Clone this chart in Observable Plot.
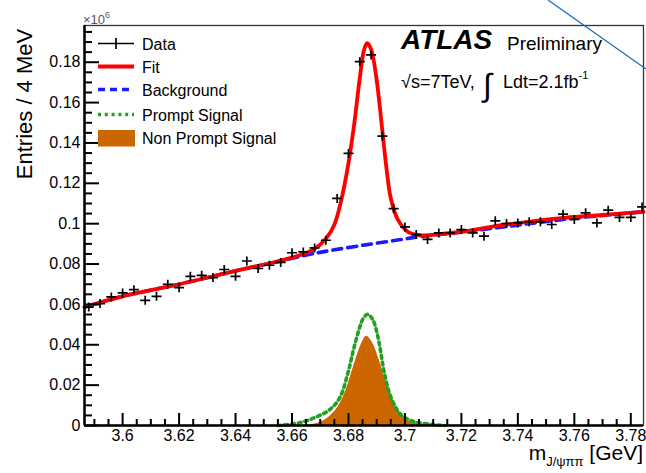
<!DOCTYPE html>
<html><head><meta charset="utf-8">
<script src="https://cdn.jsdelivr.net/npm/d3@7"></script>
<script src="https://cdn.jsdelivr.net/npm/@observablehq/plot@0.6"></script>
<style>
html,body{margin:0;padding:0;background:#fff;}
#chart{width:646px;height:473px;position:relative;}
svg text{font-family:"Liberation Sans",Arial,Helvetica,sans-serif;}
</style></head><body><div id="chart"></div>
<script>
// ---- data: histogram (bin centres in GeV, entries in units of 10^6) ----
const massGeV = [3.588,3.592,3.596,3.600,3.604,3.608,3.612,3.616,3.620,3.624,
  3.628,3.632,3.636,3.640,3.644,3.648,3.652,3.656,3.660,3.664,
  3.668,3.672,3.676,3.680,3.684,3.688,3.692,3.696,3.700,3.704,
  3.708,3.712,3.716,3.720,3.724,3.728,3.732,3.736,3.740,3.744,
  3.748,3.752,3.756,3.760,3.764,3.768,3.772,3.776,3.780,3.784];
const entries = [0.0587,0.0604,0.0637,0.0657,0.0673,0.0620,0.0640,0.0700,0.0683,0.0739,
  0.0744,0.0733,0.0773,0.0739,0.0815,0.0778,0.0794,0.0808,0.0856,0.0860,
  0.0880,0.0918,0.1125,0.1348,0.1803,0.1836,0.1434,0.1075,0.0984,0.0946,
  0.0922,0.0954,0.0954,0.0971,0.0954,0.0938,0.1014,0.1001,0.1004,0.1009,
  0.1009,0.0996,0.1047,0.1021,0.1054,0.1004,0.1067,0.1031,0.1031,0.1083];

// ---- fit curves ----
const fitMass  = [3.5865,3.600,3.620,3.640,3.655,3.663,3.668,3.672,3.675,3.6775,3.680,3.682,3.684,3.6855,3.6866,3.688,3.690,3.692,3.6935,3.695,3.6975,3.701,3.705,3.710,3.720,3.733,3.745,3.757,3.770,3.7845];
const fitValue = [0.0587,0.0640,0.0700,0.0766,0.0814,0.0845,0.0875,0.0925,0.0995,0.1120,0.1300,0.1490,0.1720,0.1860,0.1894,0.1865,0.1710,0.1460,0.1270,0.1125,0.1020,0.0960,0.0943,0.0945,0.0960,0.0990,0.1012,0.1030,0.1043,0.1059];

const bkgMass  = [3.5865,3.600,3.620,3.640,3.655,3.6655,3.674,3.686,3.698,3.706,3.720,3.740,3.760,3.7845];
const bkgValue = [0.0587,0.0640,0.0700,0.0766,0.0812,0.0846,0.0868,0.0895,0.0920,0.0937,0.0958,0.0993,0.1027,0.1059];

const promptMass  = [3.655,3.663,3.669,3.6735,3.677,3.6798,3.6816,3.6834,3.6852,3.6868,3.6886,3.690,3.6913,3.6925,3.6942,3.696,3.6985,3.703,3.710,3.714];
const promptValue = [0,0.0015,0.0045,0.0080,0.0140,0.0260,0.0365,0.0460,0.0530,0.0551,0.0525,0.0465,0.0375,0.0275,0.0175,0.0110,0.0055,0.0020,0.0005,0];

const nonPromptMass  = [3.662,3.668,3.672,3.676,3.679,3.682,3.6845,3.6864,3.6885,3.691,3.694,3.6975,3.701,3.706,3.712];
const nonPromptValue = [0,0.0008,0.0030,0.0085,0.0170,0.0300,0.0400,0.0442,0.0410,0.0320,0.0190,0.0075,0.0025,0.0006,0];

// ---- axes ----
const xTickValues = [3.60,3.62,3.64,3.66,3.68,3.70,3.72,3.74,3.76,3.78];
const xTickLabels = ["3.6","3.62","3.64","3.66","3.68","3.7","3.72","3.74","3.76","3.78"];
const yTickValues = [0,0.02,0.04,0.06,0.08,0.10,0.12,0.14,0.16,0.18];
const yTickLabels = ["0","0.02","0.04","0.06","0.08","0.1","0.12","0.14","0.16","0.18"];
const legendLabels = ["Data","Fit","Background","Prompt Signal","Non Prompt Signal"];

// ---- build ----
const W = 646, H = 473, mL = 84, mR = 3, mT = 25, mB = 48;
const pw = W - mL - mR, ph = H - mT - mB;
const pts = (xs, ys) => xs.map((x, i) => ({x, y: ys[i]}));
const hist = massGeV.map((m, i) => ({m, v: entries[i]}));
const xMinor = d3.range(3.590, 3.7846, 0.005).filter(t => !xTickValues.some(v => Math.abs(v - t) < 1e-6));
const yMinor = d3.range(0, 0.1982, 0.005).filter(t => !yTickValues.some(v => Math.abs(v - t) < 1e-6));
const cross = {draw(ctx) { ctx.moveTo(-5, 0); ctx.lineTo(5, 0); ctx.moveTo(0, -4.5); ctx.lineTo(0, 4.5); }};
const xl = d => xTickLabels[xTickValues.findIndex(v => Math.abs(v - d) < 1e-9)];
const yl = d => yTickLabels[yTickValues.findIndex(v => Math.abs(v - d) < 1e-9)];

const svgPlot = Plot.plot({
  width: W, height: H,
  marginLeft: mL, marginRight: mR, marginTop: mT, marginBottom: mB,
  x: {domain: [3.5865, 3.7845]},
  y: {domain: [0, 0.1982]},
  style: {fontFamily: "'Liberation Sans', Arial, sans-serif", fontSize: "16px", background: "#fff", color: "#000", overflow: "visible"},
  marks: [
    Plot.areaY(pts(nonPromptMass, nonPromptValue), {x: "x", y: "y", fill: "#cc6600", curve: "catmull-rom"}),
    Plot.line(pts(promptMass, promptValue), {x: "x", y: "y", stroke: "#22a022", strokeWidth: 3.6, strokeDasharray: "3 3.8", curve: "catmull-rom"}),
    Plot.line(pts(bkgMass, bkgValue), {x: "x", y: "y", stroke: "#1a1aff", strokeWidth: 3.6, strokeDasharray: "9 6", curve: "catmull-rom"}),
    Plot.line(pts(fitMass, fitValue), {x: "x", y: "y", stroke: "#ff0000", strokeWidth: 3.8, curve: "catmull-rom"}),
    Plot.dot(hist, {x: "m", y: "v", symbol: cross, r: 5, fill: "none", stroke: "#000", strokeWidth: 1.7}),
    Plot.frame({stroke: "#333", strokeWidth: 1.3}),
    Plot.tickY(yTickValues, {y: d => d, insetRight: pw - 15, strokeWidth: 2}),
    Plot.tickY(yMinor, {y: d => d, insetRight: pw - 8, strokeWidth: 2}),
    Plot.tickX(xTickValues, {x: d => d, insetTop: ph - 12, strokeWidth: 2}),
    Plot.tickX(xMinor, {x: d => d, insetTop: ph - 6, strokeWidth: 2}),
    Plot.ruleX([3.5865], {strokeWidth: 2.5}),
    Plot.ruleY([0], {strokeWidth: 2.5}),
    Plot.axisY({ticks: yTickValues, tickSize: 0, tickPadding: 4, tickFormat: yl, label: null, fontSize: 16}),
    Plot.axisX({ticks: xTickValues, tickSize: 0, tickPadding: 4, tickFormat: xl, label: null, fontSize: 16})
  ]
});
document.getElementById("chart").appendChild(svgPlot);

const svg = d3.select(svgPlot);
const T = (x, y, s, size, extra = {}) => {
  const t = svg.append("text").attr("x", x).attr("y", y).attr("font-size", size)
    .attr("fill", "#000").attr("text-anchor", "start").text(s);
  for (const k in extra) t.attr(k, extra[k]);
  return t;
};

// y-axis title and exponent
T(0, 0, "Entries / 4 MeV", 22, {transform: "translate(32,104) rotate(-90)", "text-anchor": "middle"});
const ex = T(83, 24, "×10", 13, {fill: "#555"});
ex.append("tspan").attr("dy", -6).attr("font-size", 9).text("6");

// x-axis title
const xt = T(643, 460, "m", 21, {"text-anchor": "end"});
xt.append("tspan").attr("dy", 6).attr("font-size", 13).text("J/ψππ");
xt.append("tspan").attr("dy", -6).text(" [GeV]");

// legend
const lx0 = 98, lx1 = 134, tx = 142, rows = [43.5, 66.5, 89.5, 114.5, 138];
svg.append("line").attr("x1", lx0).attr("x2", lx1).attr("y1", rows[0]).attr("y2", rows[0]).attr("stroke", "#000").attr("stroke-width", 1.7);
svg.append("line").attr("x1", (lx0 + lx1) / 2).attr("x2", (lx0 + lx1) / 2).attr("y1", rows[0] - 5.5).attr("y2", rows[0] + 5.5).attr("stroke", "#000").attr("stroke-width", 1.7);
svg.append("line").attr("x1", lx0).attr("x2", lx1).attr("y1", rows[1]).attr("y2", rows[1]).attr("stroke", "#ff0000").attr("stroke-width", 3.8);
svg.append("line").attr("x1", lx0).attr("x2", lx1).attr("y1", rows[2]).attr("y2", rows[2]).attr("stroke", "#1a1aff").attr("stroke-width", 3.6).attr("stroke-dasharray", "7 5");
svg.append("line").attr("x1", lx0).attr("x2", lx1).attr("y1", rows[3]).attr("y2", rows[3]).attr("stroke", "#22a022").attr("stroke-width", 3.6).attr("stroke-dasharray", "3 3.8");
svg.append("rect").attr("x", lx0).attr("y", rows[4] - 8).attr("width", lx1 - lx0 + 1).attr("height", 16.5).attr("fill", "#cc6600");
legendLabels.forEach((s, i) => T(tx, rows[i] + 6, s, 16));

// ATLAS label
T(401, 48.5, "ATLAS", 28, {"font-weight": "bold", "font-style": "italic"});
T(507, 50, "Preliminary", 19);
T(401, 88, "√s=7TeV,", 18);
T(483, 96, "∫", 32);
const l3 = T(503, 88, "Ldt=2.1fb", 18);
l3.append("tspan").attr("dy", -9).attr("font-size", 11).text("-1");

// stray diagonal line present in the source image
svg.append("line").attr("x1", 548).attr("y1", 0).attr("x2", 646).attr("y2", 69).attr("stroke", "#1a6fc0").attr("stroke-width", 1.3);
</script>
</body></html>
